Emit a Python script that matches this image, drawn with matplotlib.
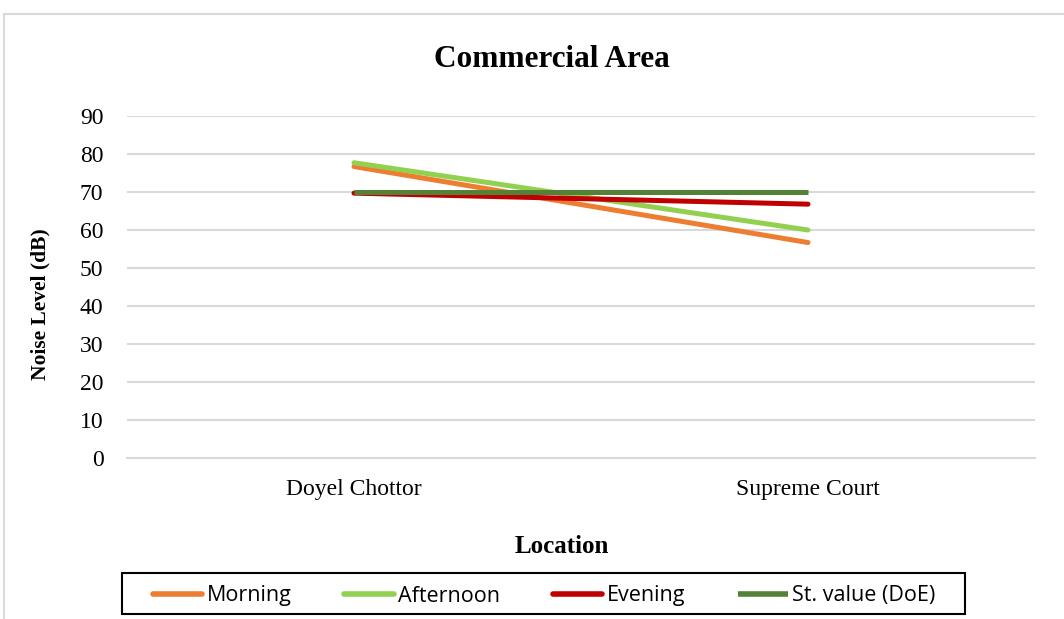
import matplotlib
matplotlib.use("Agg")
import matplotlib.pyplot as plt
from matplotlib.patches import Rectangle

locations = ["Doyel Chottor", "Supreme Court"]
morning = [76.7, 56.7]
afternoon = [77.7, 60.0]
evening = [69.7, 66.8]
st_value = [70, 70]
series_names = ["Morning", "Afternoon", "Evening", "St. value (DoE)"]
colors = ["#ed7d31", "#92d050", "#c00000", "#538135"]
yticks = [0, 10, 20, 30, 40, 50, 60, 70, 80, 90]

W, H = 1064, 619
fig = plt.figure(figsize=(W/100, H/100), dpi=100)
ax = fig.add_axes([127/W, 1-458/H, (1035-127)/W, (458-116)/H])

x = list(range(len(locations)))
for vals, name, c in zip([morning, afternoon, evening, st_value], series_names, colors):
    cap = "butt" if name.startswith("St.") else "round"
    ax.plot(x, vals, color=c, lw=3.6, label=name, solid_capstyle=cap)

ax.set_xlim(-0.5, 1.5)
ax.set_ylim(0, 90)
ax.set_yticks(yticks)
ax.set_xticks(x)
ax.set_xticklabels(locations)
ax.grid(axis="y", color="#d9d9d9", lw=1.5)
ax.set_axisbelow(True)
for s in ["top", "right", "left"]:
    ax.spines[s].set_visible(False)
ax.spines["bottom"].set_color("#d9d9d9")
ax.spines["bottom"].set_linewidth(1.5)
ax.tick_params(length=0, labelsize=17, labelcolor="black")
for lab in ax.get_xticklabels() + ax.get_yticklabels():
    lab.set_family("Liberation Serif")
ax.tick_params(axis="y", pad=17)
ax.tick_params(axis="x", pad=15)

fig.text(551.5/W, 1-67/H, "Commercial Area", ha="center", va="baseline",
         fontsize=22.5, fontweight="bold", family="Liberation Serif")
fig.text(562/W, 1-553/H, "Location", ha="center", va="baseline",
         fontsize=18, fontweight="bold", family="Liberation Serif")
fig.text(40/W, 1-304/H, "Noise Level (dB)", ha="center", va="center", rotation=90,
         fontsize=15.5, fontweight="bold", family="Liberation Serif")

leg = fig.legend(loc="center", bbox_to_anchor=(544/W, 1-596/H), ncol=4,
                 prop={"family": "Open Sans", "size": 15.5}, frameon=False,
                 handlelength=2.3, handletextpad=0.2, columnspacing=2.45,
                 borderpad=0.0)
for h in leg.legend_handles:
    h.set_linewidth(4.0)

fig.patches.append(Rectangle((122/W, 1-614/H), (965-122)/W, 41/H, transform=fig.transFigure,
                             fill=False, edgecolor="black", lw=1.5))
fig.patches.append(Rectangle((4/W, -0.1), 1.2, 1.1 - 14/H, transform=fig.transFigure,
                             fill=False, edgecolor="#d9d9d9", lw=1.5, clip_on=False))

fig.savefig("out.png", dpi=100)
